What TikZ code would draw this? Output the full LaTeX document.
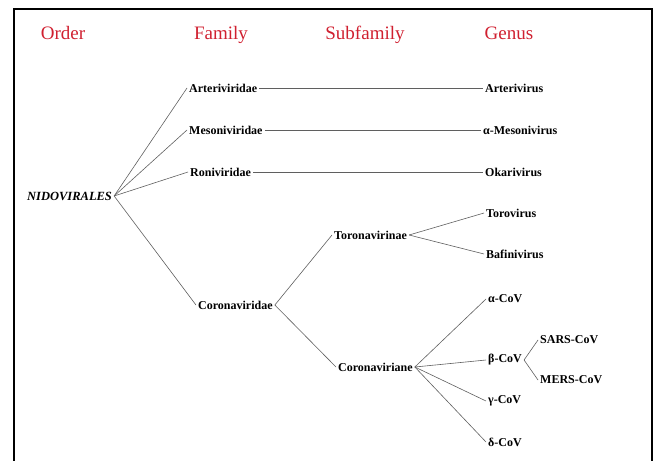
\documentclass[tikz,border=0pt]{standalone}
\usepackage{fontspec}
\setmainfont{Liberation Serif}
\definecolor{hdr}{RGB}{208,32,48}
\definecolor{ln}{RGB}{95,95,95}
\tikzset{
  hd/.style={text=hdr, font=\fontsize{19}{22}\selectfont, inner sep=0pt, anchor=base},
  tx/.style={font=\bfseries\fontsize{12}{14}\selectfont, anchor=west, inner sep=2pt},
  br/.style={draw=ln, line width=0.6pt}
}
\begin{document}
\begin{tikzpicture}[x=1pt,y=-1pt]
\useasboundingbox (0,0) rectangle (655,460);
\draw[line width=1.6pt] (14,462) -- (14,9) -- (652,9) -- (652,462);
% headers
\node[hd] (hOrder) at (63,40) {Order};
\node[hd] (hFamily) at (221,40) {Family};
\node[hd] (hSub) at (365,40) {Subfamily};
\node[hd] (hGenus) at (509,40) {Genus};
% nodes
\node[tx, font=\bfseries\itshape\fontsize{12.5}{14}\selectfont] (nido) at (25,196) {NIDOVIRALES};
\node[tx] (arteri) at (187,88) {Arteriviridae};
\node[tx] (meso) at (187,130) {Mesoniviridae};
\node[tx] (roni) at (188,172) {Roniviridae};
\node[tx] (corona) at (196,305) {Coronaviridae};
\node[tx] (arterivirus) at (483,88) {Arterivirus};
\node[tx] (amesoni) at (481,130) {α-Mesonivirus};
\node[tx] (okari) at (483,172) {Okarivirus};
\node[tx] (torona) at (332,235) {Toronavirinae};
\node[tx] (coronaviriane) at (336,367) {Coronaviriane};
\node[tx] (toro) at (484,213) {Torovirus};
\node[tx] (bafini) at (484,254) {Bafinivirus};
\node[tx] (acov) at (486,299) {α-CoV};
\node[tx] (bcov) at (486,360) {β-CoV};
\node[tx] (gcov) at (486,401) {γ-CoV};
\node[tx] (dcov) at (486,442) {δ-CoV};
\node[tx] (sars) at (538,340) {SARS-CoV};
\node[tx] (mers) at (538,380) {MERS-CoV};
% connectors
\draw[br] (nido.east) -- (arteri.west);
\draw[br] (nido.east) -- (meso.west);
\draw[br] (nido.east) -- (roni.west);
\draw[br] (nido.east) -- (corona.west);
\draw[br] (arteri.east) -- (arterivirus.west);
\draw[br] (meso.east) -- (amesoni.west);
\draw[br] (roni.east) -- (okari.west);
\draw[br] (corona.east) -- (torona.west);
\draw[br] (corona.east) -- (coronaviriane.west);
\draw[br] (torona.east) -- (toro.west);
\draw[br] (torona.east) -- (bafini.west);
\draw[br] (coronaviriane.east) -- (acov.west);
\draw[br] (coronaviriane.east) -- (bcov.west);
\draw[br] (coronaviriane.east) -- (gcov.west);
\draw[br] (coronaviriane.east) -- (dcov.west);
\draw[br] (bcov.east) -- (sars.west);
\draw[br] (bcov.east) -- (mers.west);
\end{tikzpicture}
\end{document}
